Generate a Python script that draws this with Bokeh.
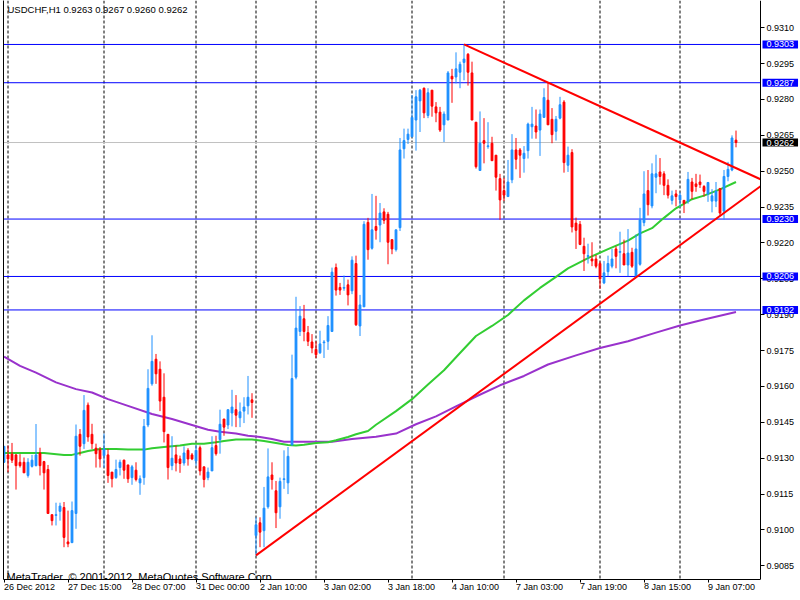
from bokeh.plotting import figure
from bokeh.models import (Range1d, LinearAxis, FixedTicker, PrintfTickFormatter,
                          CustomJSTickFormatter, Span, Label, ColumnDataSource)
from bokeh.embed import file_html
from bokeh.resources import INLINE

symbol = "USDCHF,H1"

opens = [
0.91283, 0.91314, 0.91317, 0.91314, 0.91283, 0.91283, 0.91228, 0.91266, 0.91269, 0.91322,
0.91286, 0.91253, 0.91064, 0.91061, 0.91078, 0.91094, 0.90950, 0.90947, 0.91069, 0.91400,
0.91361, 0.91522, 0.91400, 0.91342, 0.91336, 0.91311, 0.91314, 0.91242, 0.91219, 0.91261,
0.91292, 0.91272, 0.91219, 0.91250, 0.91197, 0.91219, 0.91439, 0.91611, 0.91714, 0.91672,
0.91555, 0.91400, 0.91269, 0.91314, 0.91297, 0.91280, 0.91333, 0.91314, 0.91289, 0.91344,
0.91264, 0.91219, 0.91247, 0.91353, 0.91378, 0.91464, 0.91439, 0.91489, 0.91503, 0.91469,
0.91497, 0.91519, 0.91544, 0.90977, 0.91030, 0.90997, 0.91097, 0.91230, 0.91164, 0.91097,
0.91211, 0.91197, 0.91355, 0.91639, 0.91830, 0.91883, 0.91825, 0.91786, 0.91755, 0.91741,
0.91783, 0.91789, 0.91830, 0.92097, 0.92014, 0.92011, 0.92025, 0.92000, 0.92114, 0.91853,
0.91933, 0.92286, 0.92178, 0.92269, 0.92275, 0.92330, 0.92320, 0.92214, 0.92172, 0.92264,
0.92594, 0.92633, 0.92644, 0.92714, 0.92794, 0.92847, 0.92733, 0.92839, 0.92769, 0.92747,
0.92694, 0.92714, 0.92897, 0.92894, 0.92914, 0.92955, 0.92989, 0.92911, 0.92705, 0.92503,
0.92628, 0.92603, 0.92617, 0.92567, 0.92469, 0.92419, 0.92394, 0.92464, 0.92589, 0.92589,
0.92553, 0.92586, 0.92686, 0.92689, 0.92672, 0.92725, 0.92797, 0.92717, 0.92667, 0.92722,
0.92789, 0.92525, 0.92578, 0.92283, 0.92278, 0.92186, 0.92144, 0.92133, 0.92133, 0.92114,
0.92033, 0.92080, 0.92103, 0.92175, 0.92161, 0.92155, 0.92108, 0.92161, 0.92061, 0.92111,
0.92285, 0.92419, 0.92355, 0.92475, 0.92497, 0.92489, 0.92441, 0.92378, 0.92405, 0.92380,
0.92378, 0.92375, 0.92455, 0.92447, 0.92455, 0.92436, 0.92405, 0.92375, 0.92375, 0.92428,
0.92333, 0.92478, 0.92505, 0.92630]

highs = [
0.91350, 0.91353, 0.91364, 0.91317, 0.91317, 0.91303, 0.91300, 0.91314, 0.91443, 0.91344,
0.91289, 0.91272, 0.91064, 0.91114, 0.91114, 0.91117, 0.91081, 0.91119, 0.91441, 0.91422,
0.91564, 0.91533, 0.91444, 0.91361, 0.91347, 0.91403, 0.91339, 0.91242, 0.91294, 0.91294,
0.91294, 0.91272, 0.91272, 0.91283, 0.91228, 0.91464, 0.91672, 0.91814, 0.91736, 0.91705,
0.91655, 0.91400, 0.91392, 0.91353, 0.91311, 0.91350, 0.91342, 0.91322, 0.91355, 0.91353,
0.91264, 0.91261, 0.91392, 0.91394, 0.91503, 0.91464, 0.91503, 0.91586, 0.91564, 0.91533,
0.91555, 0.91644, 0.91572, 0.91053, 0.91053, 0.91180, 0.91341, 0.91283, 0.91205, 0.91219,
0.91333, 0.91347, 0.91733, 0.91975, 0.91936, 0.91941, 0.91853, 0.91819, 0.91789, 0.91833,
0.91794, 0.91894, 0.92097, 0.92114, 0.92033, 0.92064, 0.92047, 0.92144, 0.92147, 0.91983,
0.92291, 0.92305, 0.92405, 0.92397, 0.92367, 0.92345, 0.92330, 0.92214, 0.92255, 0.92639,
0.92678, 0.92678, 0.92819, 0.92839, 0.92844, 0.92850, 0.92847, 0.92839, 0.92789, 0.92769,
0.92750, 0.92919, 0.92928, 0.92997, 0.92958, 0.93030, 0.92994, 0.92958, 0.92705, 0.92750,
0.92722, 0.92705, 0.92644, 0.92567, 0.92489, 0.92472, 0.92547, 0.92655, 0.92639, 0.92597,
0.92605, 0.92703, 0.92769, 0.92758, 0.92758, 0.92847, 0.92869, 0.92764, 0.92731, 0.92811,
0.92797, 0.92603, 0.92592, 0.92306, 0.92292, 0.92222, 0.92197, 0.92203, 0.92150, 0.92122,
0.92125, 0.92147, 0.92175, 0.92186, 0.92247, 0.92214, 0.92258, 0.92180, 0.92236, 0.92347,
0.92500, 0.92505, 0.92533, 0.92569, 0.92555, 0.92500, 0.92466, 0.92419, 0.92422, 0.92411,
0.92380, 0.92497, 0.92472, 0.92489, 0.92486, 0.92442, 0.92455, 0.92425, 0.92455, 0.92428,
0.92505, 0.92539, 0.92650, 0.92670]

lows = [
0.91280, 0.91242, 0.91280, 0.91169, 0.91261, 0.91239, 0.91219, 0.91261, 0.91266, 0.91228,
0.91169, 0.91069, 0.91019, 0.91019, 0.91039, 0.90928, 0.90928, 0.90947, 0.91005, 0.91311,
0.91339, 0.91369, 0.91339, 0.91261, 0.91261, 0.91261, 0.91197, 0.91178, 0.91214, 0.91228,
0.91214, 0.91197, 0.91189, 0.91203, 0.91147, 0.91189, 0.91430, 0.91603, 0.91611, 0.91497,
0.91366, 0.91211, 0.91250, 0.91245, 0.91239, 0.91269, 0.91269, 0.91292, 0.91269, 0.91228,
0.91178, 0.91208, 0.91247, 0.91311, 0.91319, 0.91394, 0.91422, 0.91433, 0.91430, 0.91430,
0.91447, 0.91483, 0.91469, 0.90894, 0.90928, 0.90928, 0.91089, 0.91169, 0.91008, 0.91047,
0.91172, 0.91150, 0.91355, 0.91630, 0.91811, 0.91789, 0.91769, 0.91739, 0.91719, 0.91736,
0.91719, 0.91753, 0.91830, 0.91980, 0.91983, 0.92000, 0.91939, 0.91986, 0.91853, 0.91811,
0.91933, 0.92130, 0.92172, 0.92214, 0.92203, 0.92280, 0.92111, 0.92153, 0.92164, 0.92250,
0.92553, 0.92614, 0.92644, 0.92586, 0.92664, 0.92722, 0.92722, 0.92728, 0.92705, 0.92664,
0.92622, 0.92714, 0.92786, 0.92867, 0.92847, 0.92880, 0.92858, 0.92714, 0.92511, 0.92503,
0.92533, 0.92594, 0.92544, 0.92419, 0.92297, 0.92375, 0.92394, 0.92450, 0.92508, 0.92472,
0.92494, 0.92553, 0.92636, 0.92636, 0.92564, 0.92725, 0.92694, 0.92617, 0.92628, 0.92717,
0.92494, 0.92497, 0.92244, 0.92175, 0.92191, 0.92083, 0.92114, 0.92103, 0.92094, 0.92008,
0.92028, 0.92061, 0.92094, 0.92094, 0.92075, 0.92108, 0.92061, 0.92096, 0.92055, 0.92105,
0.92270, 0.92315, 0.92345, 0.92408, 0.92444, 0.92400, 0.92386, 0.92361, 0.92353, 0.92350,
0.92325, 0.92364, 0.92383, 0.92414, 0.92430, 0.92394, 0.92372, 0.92328, 0.92350, 0.92311,
0.92297, 0.92458, 0.92500, 0.92600]

closes = [
0.91350, 0.91297, 0.91292, 0.91269, 0.91269, 0.91239, 0.91283, 0.91292, 0.91314, 0.91269,
0.91239, 0.91069, 0.91039, 0.91064, 0.91100, 0.90969, 0.90942, 0.91081, 0.91392, 0.91350,
0.91500, 0.91389, 0.91361, 0.91319, 0.91297, 0.91339, 0.91228, 0.91214, 0.91253, 0.91283,
0.91250, 0.91214, 0.91264, 0.91211, 0.91214, 0.91433, 0.91592, 0.91705, 0.91653, 0.91539,
0.91411, 0.91261, 0.91300, 0.91280, 0.91278, 0.91322, 0.91297, 0.91297, 0.91333, 0.91247,
0.91211, 0.91242, 0.91344, 0.91319, 0.91442, 0.91430, 0.91503, 0.91514, 0.91480, 0.91494,
0.91514, 0.91555, 0.91533, 0.91022, 0.90991, 0.91091, 0.91222, 0.91211, 0.91072, 0.91203,
0.91214, 0.91308, 0.91633, 0.91844, 0.91894, 0.91830, 0.91789, 0.91761, 0.91733, 0.91778,
0.91786, 0.91855, 0.92078, 0.92003, 0.92003, 0.92014, 0.91983, 0.92128, 0.91858, 0.91941,
0.92278, 0.92172, 0.92255, 0.92253, 0.92325, 0.92295, 0.92203, 0.92175, 0.92255, 0.92589,
0.92628, 0.92655, 0.92725, 0.92811, 0.92839, 0.92744, 0.92828, 0.92772, 0.92744, 0.92672,
0.92739, 0.92911, 0.92886, 0.92928, 0.92947, 0.92969, 0.92914, 0.92714, 0.92519, 0.92617,
0.92617, 0.92606, 0.92544, 0.92475, 0.92380, 0.92400, 0.92455, 0.92589, 0.92550, 0.92567,
0.92575, 0.92697, 0.92697, 0.92664, 0.92739, 0.92808, 0.92694, 0.92653, 0.92717, 0.92778,
0.92536, 0.92567, 0.92267, 0.92253, 0.92194, 0.92155, 0.92147, 0.92125, 0.92103, 0.92050,
0.92075, 0.92114, 0.92133, 0.92144, 0.92164, 0.92108, 0.92158, 0.92103, 0.92175, 0.92297,
0.92405, 0.92360, 0.92489, 0.92489, 0.92478, 0.92441, 0.92400, 0.92397, 0.92394, 0.92400,
0.92366, 0.92466, 0.92416, 0.92436, 0.92444, 0.92416, 0.92453, 0.92397, 0.92416, 0.92325,
0.92478, 0.92508, 0.92639, 0.92620]

# time axis labels (bar index -> text)
time_label_bars = [0, 16, 32, 48, 64, 80, 96, 112, 128, 144, 160, 176]
time_labels = ["26 Dec 2012", "27 Dec 15:00", "28 Dec 07:00", "31 Dec 00:00",
               "2 Jan 10:00", "3 Jan 02:00", "3 Jan 18:00", "4 Jan 10:00",
               "7 Jan 03:00", "7 Jan 19:00", "8 Jan 15:00", "9 Jan 07:00"]
# vertical grid (day separators) at bar indices
grid_bars = [1, 25, 48, 63, 78, 102, 125, 149, 169]

price_ticks = [0.9085, 0.9100, 0.9115, 0.9130, 0.9145, 0.9160, 0.9175, 0.9190,
               0.9205, 0.9220, 0.9235, 0.9250, 0.9265, 0.9280, 0.9295, 0.9310]

level_prices = [0.9303, 0.9287, 0.9230, 0.9206, 0.9192]

fast_ma_bars = [0, 10, 15, 17, 19, 21, 24, 28, 31, 35, 37, 40, 44, 47, 50, 53, 55, 58, 62, 65,
                68, 71, 73, 75, 78, 81, 83, 86, 88, 91, 93, 98, 102, 106, 110, 114, 118, 122, 126, 130,
                134, 138, 141, 146, 151, 156, 159, 162, 165, 168, 172, 175, 179, 183]
fast_ma_vals = [0.91322, 0.91322, 0.91314, 0.91314, 0.91322, 0.91330, 0.91339, 0.91339, 0.91336, 0.91336,
                0.91342, 0.91347, 0.91353, 0.91361, 0.91361, 0.91367, 0.91372, 0.91378, 0.91378, 0.91372,
                0.91364, 0.91355, 0.91353, 0.91356, 0.91364, 0.91367, 0.91375, 0.91389, 0.91400, 0.91414,
                0.91440, 0.91497, 0.91547, 0.91608, 0.91668, 0.91740, 0.91811, 0.91853, 0.91899, 0.91960,
                0.92012, 0.92058, 0.92094, 0.92137, 0.92174, 0.92210, 0.92240, 0.92262, 0.92305, 0.92345,
                0.92383, 0.92398, 0.92424, 0.92455]

slow_ma_bars = [0, 4, 8, 13, 18, 22, 26, 31, 37, 42, 47, 51, 54, 58, 61, 64, 67, 70, 82, 87,
                93, 98, 103, 108, 113, 118, 124, 130, 136, 143, 149, 156, 163, 169, 175, 183]
slow_ma_vals = [0.91725, 0.91686, 0.91658, 0.91617, 0.91589, 0.91575, 0.91547, 0.91519, 0.91485, 0.91464,
                0.91439, 0.91419, 0.91411, 0.91403, 0.91394, 0.91389, 0.91380, 0.91369, 0.91369, 0.91380,
                0.91390, 0.91403, 0.91442, 0.91475, 0.91517, 0.91558, 0.91605, 0.91644, 0.91692, 0.91730,
                0.91761, 0.91789, 0.91825, 0.91855, 0.91880, 0.91911]

# trend lines: two anchor points each (bar index, price)
support_bars = [63, 183]
support_prices = [0.90894, 0.92362]
resist_bars = [115, 183]
resist_prices = [0.93030, 0.92513]

BULL = "#1E90FF"
BEAR = "#FF0000"
FONT = "Liberation Sans"

W, H = 799, 599
LEFT, BOTTOM = 3, 18
PX_PER_BAR = 4.0
PX_PER_PRICE = 24000.0
FRAME_W, FRAME_H = W - LEFT, H - BOTTOM

X_START = -0.125                        # left frame edge
X_AXIS = X_START + 757 / PX_PER_BAR     # price axis position (right edge of chart area)
X_FULL = X_START + FRAME_W / PX_PER_BAR
Y_END = 0.932138
Y_START = Y_END - FRAME_H / PX_PER_PRICE

p = figure(width=W, height=H, output_backend="svg", toolbar_location=None,
           x_range=Range1d(X_START, X_FULL), y_range=Range1d(Y_START, Y_END),
           x_axis_type=None, y_axis_type=None,
           min_border_left=LEFT, min_border_top=0, min_border_right=0, min_border_bottom=BOTTOM)
p.outline_line_color = None
p.background_fill_color = "white"
p.border_fill_color = "white"

# vertical dashed grid
for b in grid_bars:
    p.add_layout(Span(location=b, dimension="height", line_color="black", line_width=1,
                      line_dash="3 2", level="underlay"))

# horizontal levels (stop at the price axis)
n_lv = len(level_prices)
p.segment(x0=[X_START] * n_lv, y0=level_prices, x1=[X_AXIS] * n_lv, y1=level_prices,
          line_color="#0000FF", line_width=1)
# bid line
p.segment(x0=[X_START], y0=[closes[-1]], x1=[X_AXIS], y1=[closes[-1]],
          line_color="#C0C0C0", line_width=1)

# moving averages
p.line(slow_ma_bars, slow_ma_vals, line_color="#9932CC", line_width=2)
p.line(fast_ma_bars, fast_ma_vals, line_color="#32CD32", line_width=2)

# candles
idx = list(range(len(opens)))
colors = [BULL if c >= o else BEAR for o, c in zip(opens, closes)]
src = ColumnDataSource(dict(
    x=idx, o=opens, h=highs, l=lows, c=closes,
    top=[max(o, c) for o, c in zip(opens, closes)],
    bottom=[min(o, c) for o, c in zip(opens, closes)],
    color=colors))
p.segment(x0="x", y0="h", x1="x", y1="l", line_color="color", line_width=1, source=src)
p.vbar(x="x", width=0.45, top="top", bottom="bottom", fill_color="color",
       line_color="color", line_width=1, source=src)

# trend lines (rays extended to the price axis)
def ray(bars, prices, x_to):
    slope = (prices[1] - prices[0]) / (bars[1] - bars[0])
    return [bars[0], x_to], [prices[0], prices[0] + slope * (x_to - bars[0])]

sx, sy = ray(support_bars, support_prices, X_AXIS)
p.line(sx, sy, line_color="red", line_width=2)
rx, ry = ray(resist_bars, resist_prices, X_AXIS)
p.line(rx, ry, line_color="red", line_width=2)

# axes
lax = LinearAxis(ticker=FixedTicker(ticks=[]), major_tick_out=0, major_tick_in=0,
                 minor_tick_line_color=None, major_label_standoff=0, axis_line_color="black")
p.add_layout(lax, "left")

yax = LinearAxis(ticker=FixedTicker(ticks=price_ticks), formatter=PrintfTickFormatter(format="%.4f"),
                 fixed_location=X_AXIS,
                 major_tick_out=4, major_tick_in=0, minor_tick_line_color=None,
                 major_label_standoff=2, major_label_text_font=FONT,
                 major_label_text_font_size="9px", major_label_text_color="black",
                 axis_line_color="black", major_tick_line_color="black")
p.add_layout(yax, "right")

xax = LinearAxis(ticker=FixedTicker(ticks=time_label_bars),
                 formatter=CustomJSTickFormatter(args=dict(bars=time_label_bars, labels=time_labels), code="""
                    let best = 0;
                    for (let k = 0; k < bars.length; k++) {
                        if (Math.abs(bars[k] - tick) < Math.abs(bars[best] - tick)) best = k;
                    }
                    return labels[best];
                 """),
                 bounds=(X_START, X_AXIS),
                 major_label_orientation=-0.0001,
                 major_tick_out=3, major_tick_in=0, minor_tick_line_color=None,
                 major_label_standoff=4, major_label_text_font=FONT,
                 major_label_text_font_size="9px", major_label_text_color="black",
                 axis_line_color="black", major_tick_line_color="black")
p.add_layout(xax, "below")

# price level tags on the axis
for lv in level_prices:
    p.add_layout(Label(x=X_AXIS, y=lv, x_offset=2, text=f"{lv:.4f}", text_font=FONT,
                       text_font_size="9px", text_color="white", text_baseline="middle",
                       text_align="left", background_fill_color="#0000FF", padding=(4, 1)))
p.add_layout(Label(x=X_AXIS, y=closes[-1], x_offset=2, text=f"{closes[-1]:.4f}", text_font=FONT,
                   text_font_size="9px", text_color="white", text_baseline="middle",
                   text_align="left", background_fill_color="#000000", padding=(4, 1)))

header = f"{symbol}  {opens[-1]:.4f} {highs[-1]:.4f} {lows[-1]:.4f} {closes[-1]:.4f}"
p.add_layout(Label(x=X_START, y=Y_END, x_offset=4, y_offset=-3, text=header, text_font=FONT,
                   text_font_size="9.5px", text_color="black", text_baseline="top"))
p.add_layout(Label(x=X_START, y=Y_START, x_offset=3, y_offset=3,
                   text="MetaTrader, \u00a9 2001-2012, MetaQuotes Software Corp.", text_font=FONT,
                   text_font_size="11px", text_color="black", text_baseline="alphabetic"))

open("out.html", "w").write(file_html(p, INLINE))
